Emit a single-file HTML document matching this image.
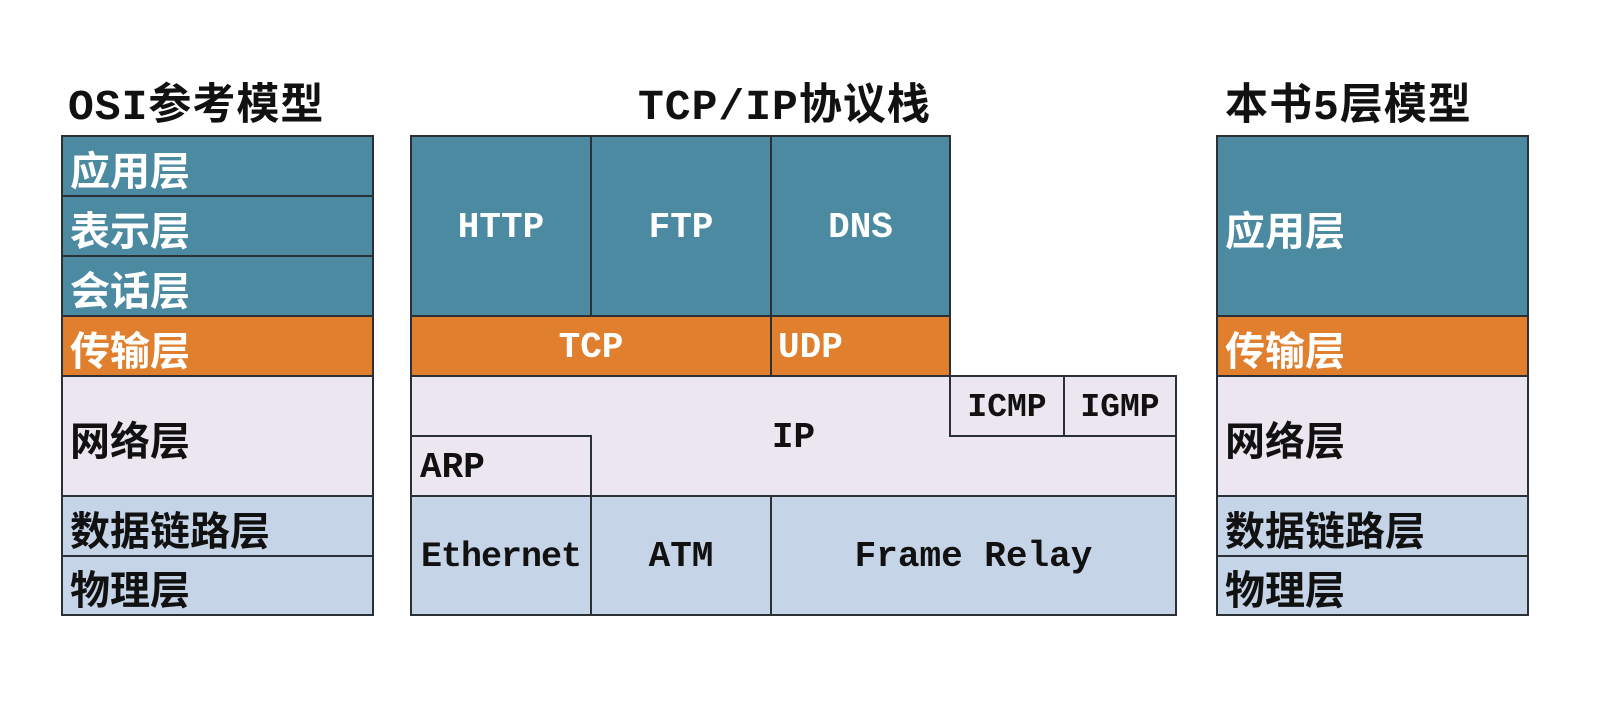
<!DOCTYPE html>
<html><head><meta charset="utf-8"><style>
body{margin:0;width:1598px;height:726px;background:#fff;position:relative;overflow:hidden;font-family:"Liberation Sans","Noto Sans CJK SC",sans-serif}
.b{position:absolute;box-sizing:border-box;border:2px solid #2a3035;display:flex;align-items:center;font-size:40px;font-weight:bold;padding-top:3px}
.t{background:#4b8aa0;color:#fff}
.o{background:#e0802f;color:#fff}
.l{background:#ebe6ef;color:#111}
.u{background:#c6d4e7;color:#111}
.c{justify-content:center}
.p{padding-left:7px}
.m{font-family:"Liberation Mono","Noto Sans CJK SC",monospace;font-size:36px;padding-top:2px}
.h{position:absolute;top:70px;font-size:43px;font-family:"Liberation Mono","Noto Sans CJK SC",monospace;color:#111;font-weight:bold;letter-spacing:1px}
</style></head><body>
<div class="h" style="left:68px">OSI参考模型</div>
<div class="h" style="left:638px">TCP/IP协议栈</div>
<div class="h" style="left:1225px">本书5层模型</div>

<div class="b t p" style="left:61px;top:135px;width:313px;height:62px">应用层</div>
<div class="b t p" style="left:61px;top:195px;width:313px;height:62px">表示层</div>
<div class="b t p" style="left:61px;top:255px;width:313px;height:62px">会话层</div>
<div class="b o p" style="left:61px;top:315px;width:313px;height:62px">传输层</div>
<div class="b l p" style="left:61px;top:375px;width:313px;height:122px">网络层</div>
<div class="b u p" style="left:61px;top:495px;width:313px;height:62px">数据链路层</div>
<div class="b u p" style="left:61px;top:555px;width:313px;height:61px">物理层</div>

<div class="b t c m" style="left:410px;top:135px;width:182px;height:182px">HTTP</div>
<div class="b t c m" style="left:590px;top:135px;width:182px;height:182px">FTP</div>
<div class="b t c m" style="left:770px;top:135px;width:181px;height:182px">DNS</div>
<div class="b o c m" style="left:410px;top:315px;width:362px;height:62px">TCP</div>
<div class="b o m" style="left:770px;top:315px;width:181px;height:62px;padding-left:6px">UDP</div>
<div class="b l c m" style="left:410px;top:375px;width:767px;height:122px">IP</div>
<div class="b l c m" style="left:949px;top:375px;width:116px;height:62px;font-size:33px">ICMP</div>
<div class="b l c m" style="left:1063px;top:375px;width:114px;height:62px;font-size:33px">IGMP</div>
<div class="b l m" style="left:410px;top:435px;width:182px;height:62px;padding-left:8px">ARP</div>
<div class="b u c m" style="left:410px;top:495px;width:182px;height:121px;font-size:35px;letter-spacing:-1px">Ethernet</div>
<div class="b u c m" style="left:590px;top:495px;width:182px;height:121px">ATM</div>
<div class="b u c m" style="left:770px;top:495px;width:407px;height:121px">Frame Relay</div>

<div class="b t p" style="left:1216px;top:135px;width:313px;height:182px">应用层</div>
<div class="b o p" style="left:1216px;top:315px;width:313px;height:62px">传输层</div>
<div class="b l p" style="left:1216px;top:375px;width:313px;height:122px">网络层</div>
<div class="b u p" style="left:1216px;top:495px;width:313px;height:62px">数据链路层</div>
<div class="b u p" style="left:1216px;top:555px;width:313px;height:61px">物理层</div>
</body></html>
